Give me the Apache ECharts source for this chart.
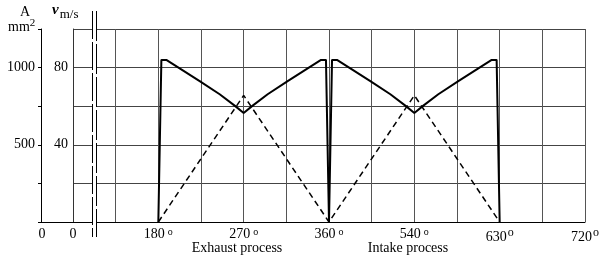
<!DOCTYPE html>
<html>
<head>
<meta charset="utf-8">
<script src="https://cdn.jsdelivr.net/npm/echarts@6/dist/echarts.min.js"></script>
<style>
    html, body {margin: 0; padding: 0; background: #fff;}
    #valveChart {width: 605px; height: 260px;}
</style>
</head>
<body>
<div id="valveChart"></div>
<script>
// x positions are in drawn degrees (the intake half is drawn on the same 180 deg span as the exhaust)
var tickPos = [90, 180, 270, 360, 450, 540, 630];
var tickText = ['0', '180°', '270°', '360°', '540°', '630°', '720°'];

// gas velocity (m/s), solid line
var exhaustDeg = [180, 183.2, 188.4, 202.5, 223.6, 244.7, 260.5, 270, 279.5, 295.3, 316.4, 337.5, 351.6, 356.8, 360];
var exhaustV = [0, 84, 84, 79.6, 73.0, 66.2, 60.3, 56.5, 60.3, 66.2, 73.0, 79.6, 84, 84, 0];
var intakeDeg = [360, 363.2, 368.4, 382.5, 403.6, 424.7, 440.5, 450, 459.5, 475.3, 496.4, 517.5, 531.6, 536.8, 540];
var intakeV = [0, 84, 84, 79.6, 73.0, 66.2, 60.3, 56.5, 60.3, 66.2, 73.0, 79.6, 84, 84, 0];

// flow area A (mm2), dashed line
var areaDeg = [180, 270, 360, 450, 540];
var areaA = [0, 820, 0, 820, 0];

var serif = '"Liberation Serif", "Times New Roman", serif';

function pairs(xs, ys) {
    var out = [];
    for (var i = 0; i < xs.length; i++) {
        out.push([xs[i], ys[i]]);
    }
    return out;
}

var chart = echarts.init(document.getElementById('valveChart'));

var option = {
    animation: false,
    backgroundColor: '#fff',
    grid: {left: 73, right: 20, top: 29, bottom: 38},
    xAxis: {
        type: 'value',
        min: 90,
        max: 630,
        interval: 45,
        axisLine: {lineStyle: {color: '#000', width: 1}},
        axisTick: {show: false},
        splitLine: {lineStyle: {color: '#555', width: 1}},
        axisLabel: {
            margin: 5,
            showMinLabel: true,
            showMaxLabel: true,
            fontFamily: serif,
            fontSize: 14,
            color: '#000',
            formatter: function (val) {
                var i = tickPos.indexOf(val);
                if (i < 0) return '';
                var t = tickText[i];
                if (t.indexOf('°') < 0) return t;
                var num = t.replace('°', '');
                return num + (i < 5 ? '{d|o}' : '{s|o}');
            },
            rich: {
                d: {fontFamily: serif, fontSize: 10, padding: [0, 0, 5, 3]},
                s: {fontFamily: serif, fontSize: 12, padding: [0, 0, 9, 1]}
            }
        }
    },
    yAxis: [{
        type: 'value',
        min: 0,
        max: 100,
        interval: 20,
        position: 'left',
        axisLine: {show: true, lineStyle: {color: '#333'}},
        axisTick: {show: false},
        splitLine: {lineStyle: {color: '#444', width: 1}},
        axisLabel: {
            margin: 5,
            fontFamily: serif,
            fontSize: 14,
            color: '#000',
            formatter: function (val) {
                return (val === 40 || val === 80) ? String(val) : '';
            }
        }
    }, {
        type: 'value',
        min: 0,
        max: 1250,
        interval: 250,
        position: 'left',
        offset: 32,
        axisLine: {show: true, lineStyle: {color: '#000'}},
        axisTick: {show: true, length: 3, lineStyle: {color: '#000'}},
        splitLine: {show: false},
        axisLabel: {
            margin: 6,
            fontFamily: serif,
            fontSize: 14,
            color: '#000',
            formatter: function (val) {
                return (val === 500 || val === 1000) ? String(val) : '';
            }
        }
    }],
    series: [{
        name: 'v',
        type: 'line',
        yAxisIndex: 0,
        symbol: 'none',
        lineStyle: {color: '#000', width: 2},
        data: pairs(exhaustDeg, exhaustV).concat(pairs(intakeDeg, intakeV).slice(1)),
        z: 5
    }, {
        name: 'A',
        type: 'line',
        yAxisIndex: 1,
        symbol: 'none',
        lineStyle: {color: '#000', width: 1.5, type: [6, 4]},
        data: pairs(areaDeg, areaA),
        z: 4
    }],
    graphic: [
        // axis break
        {type: 'rect', z: 100, shape: {x: 93, y: 20, width: 3, height: 210}, style: {fill: '#fff'}},
        {type: 'line', z: 101, shape: {x1: 92.5, y1: 11, x2: 92.5, y2: 237}, style: {stroke: '#000', lineWidth: 1, lineDash: [28, 3]}},
        {type: 'line', z: 101, shape: {x1: 96.5, y1: 11, x2: 96.5, y2: 237}, style: {stroke: '#000', lineWidth: 1, lineDash: [30, 3]}},
        // bottom line joining the A axis
        {type: 'line', z: 100, shape: {x1: 41, y1: 222.5, x2: 73, y2: 222.5}, style: {stroke: '#000', lineWidth: 1}},
        {type: 'text', z: 100, x: 42, y: 234, style: {text: '0', font: '14px ' + serif, fill: '#000', align: 'center', verticalAlign: 'middle'}},
        // axis names
        {type: 'text', z: 100, x: 25, y: 12, style: {text: 'A', font: '14px ' + serif, fill: '#000', align: 'center', verticalAlign: 'middle'}},
        {type: 'text', z: 100, x: 8, y: 27, style: {
            text: 'mm{sup|2}', font: '14px ' + serif, fill: '#000', verticalAlign: 'middle',
            rich: {sup: {font: '11px ' + serif, padding: [0, 0, 8, 0]}}
        }},
        {type: 'text', z: 100, x: 52, y: 12, style: {
            text: '{v|v}{u|m/s}', verticalAlign: 'middle',
            rich: {
                v: {font: 'italic bold 15px ' + serif, fill: '#000', padding: [0, 1, 3, 0]},
                u: {font: '13px ' + serif, fill: '#000', padding: [5, 0, 0, 0]}
            }
        }},
        // process names
        {type: 'text', z: 100, x: 237, y: 248, style: {text: 'Exhaust process', font: '14px ' + serif, fill: '#000', align: 'center', verticalAlign: 'middle'}},
        {type: 'text', z: 100, x: 408, y: 248, style: {text: 'Intake process', font: '14px ' + serif, fill: '#000', align: 'center', verticalAlign: 'middle'}}
    ]
};

chart.setOption(option);
</script>
</body>
</html>
